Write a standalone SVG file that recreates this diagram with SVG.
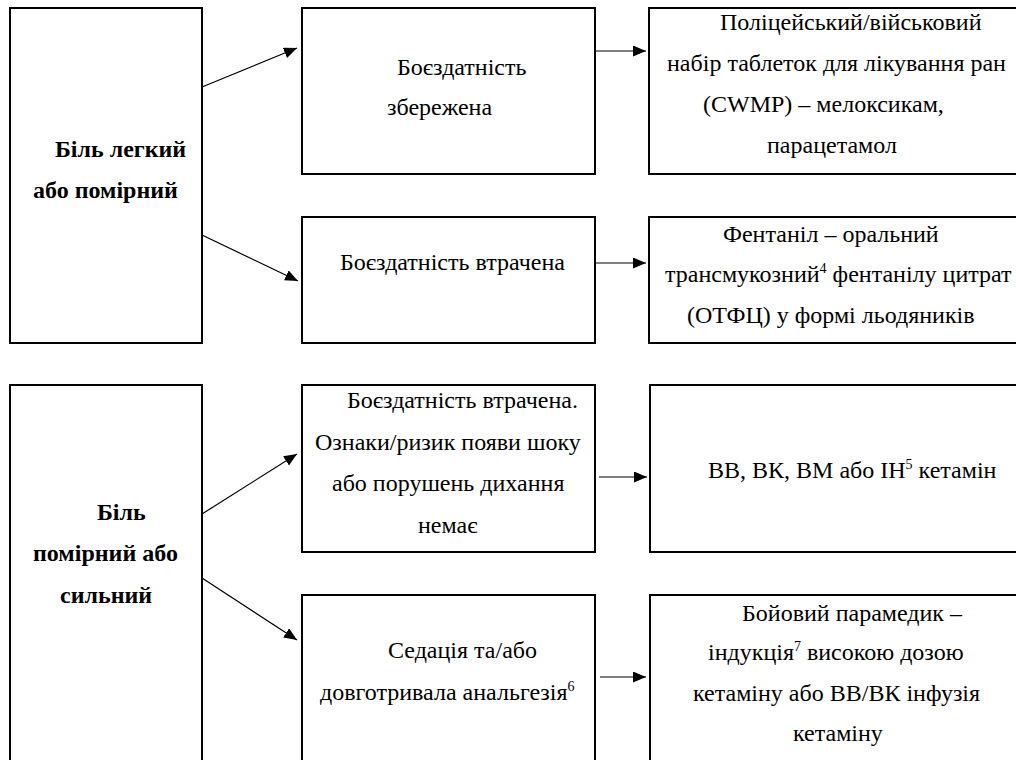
<svg xmlns="http://www.w3.org/2000/svg" width="1016" height="760" viewBox="0 0 1016 760">
<style>
.box{fill:#fff;stroke:#000;stroke-width:2}
.t{font-family:'Liberation Serif','Tinos','DejaVu Serif',serif;font-size:24px;fill:#000}
.b{font-weight:bold}
.sup{font-size:14px}
.c{stroke:#000;stroke-width:1.2;fill:none;marker-end:url(#ah)}
</style>
<defs>
<marker id="ah" markerUnits="userSpaceOnUse" markerWidth="14" markerHeight="12" refX="13" refY="5.5" orient="auto">
<path d="M0,0 L13,5.5 L0,11 Z" fill="#000"/>
</marker>
</defs>
<rect width="1016" height="760" fill="#fff"/>

<g id="pain-mild" font-family="Liberation Serif, serif">
<rect class="box" x="10" y="8" width="192" height="335"/>
<text class="t b" x="55" y="157">Біль легкий</text>
<text class="t b" x="33" y="198">або помірний</text>
</g>
<g id="combat-preserved">
<rect class="box" x="302" y="8" width="293" height="166"/>
<text class="t" x="397" y="75">Боєздатність</text>
<text class="t" x="387" y="115">збережена</text>
</g>
<g id="combat-lost-1">
<rect class="box" x="302" y="217" width="293" height="126"/>
<text class="t" x="340" y="270">Боєздатність втрачена</text>
</g>
<g id="cwmp">
<rect class="box" x="649" y="8" width="420" height="166"/>
<text class="t" x="720" y="30">Поліцейський/військовий</text>
<text class="t" x="667" y="71">набір таблеток для лікування ран</text>
<text class="t" x="703" y="112">(CWMP) – мелоксикам,</text>
<text class="t" x="767" y="153">парацетамол</text>
</g>
<g id="fentanyl">
<rect class="box" x="649" y="217" width="420" height="126"/>
<text class="t" x="723" y="242">Фентаніл – оральний</text>
<text class="t" x="665" y="282">трансмукозний<tspan class="sup" dy="-9">4</tspan><tspan dy="9"> фентанілу цитрат</tspan></text>
<text class="t" x="687" y="323">(ОТФЦ) у формі льодяників</text>
</g>

<g id="pain-severe">
<rect class="box" x="10" y="385" width="192" height="420"/>
<text class="t b" x="97" y="520">Біль</text>
<text class="t b" x="33" y="561">помірний або</text>
<text class="t b" x="60" y="603">сильний</text>
</g>
<g id="combat-lost-2">
<rect class="box" x="302" y="385" width="293" height="167"/>
<text class="t" x="347" y="408">Боєздатність втрачена.</text>
<text class="t" x="315" y="450">Ознаки/ризик появи шоку</text>
<text class="t" x="332" y="491">або порушень дихання</text>
<text class="t" x="418" y="533">немає</text>
</g>
<g id="sedation">
<rect class="box" x="302" y="595" width="293" height="220"/>
<text class="t" x="388" y="658">Седація та/або</text>
<text class="t" x="320" y="700">довготривала анальгезія<tspan class="sup" dy="-9">6</tspan></text>
</g>
<g id="ketamine">
<rect class="box" x="650" y="385" width="420" height="167"/>
<text class="t" x="708" y="478">ВВ, ВК, ВМ або ІН<tspan class="sup" dy="-9">5</tspan><tspan dy="9"> кетамін</tspan></text>
</g>
<g id="paramedic">
<rect class="box" x="650" y="595" width="420" height="220"/>
<text class="t" x="742" y="621">Бойовий парамедик –</text>
<text class="t" x="708" y="660">індукція<tspan class="sup" dy="-9">7</tspan><tspan dy="9"> високою дозою</tspan></text>
<text class="t" x="693" y="701">кетаміну або ВВ/ВК інфузія</text>
<text class="t" x="793" y="741">кетаміну</text>
</g>

<g id="connectors">
<line class="c" x1="202" y1="87" x2="297" y2="48"/>
<line class="c" x1="202" y1="235" x2="298" y2="281"/>
<line class="c" x1="202" y1="514" x2="297" y2="454"/>
<line class="c" x1="202" y1="578" x2="297" y2="640"/>
<line class="c" x1="596" y1="51" x2="646" y2="51"/>
<line class="c" x1="596" y1="263" x2="646" y2="263"/>
<line class="c" x1="599" y1="477" x2="647" y2="477"/>
<line class="c" x1="600" y1="677" x2="646" y2="677"/>
</g>
</svg>
